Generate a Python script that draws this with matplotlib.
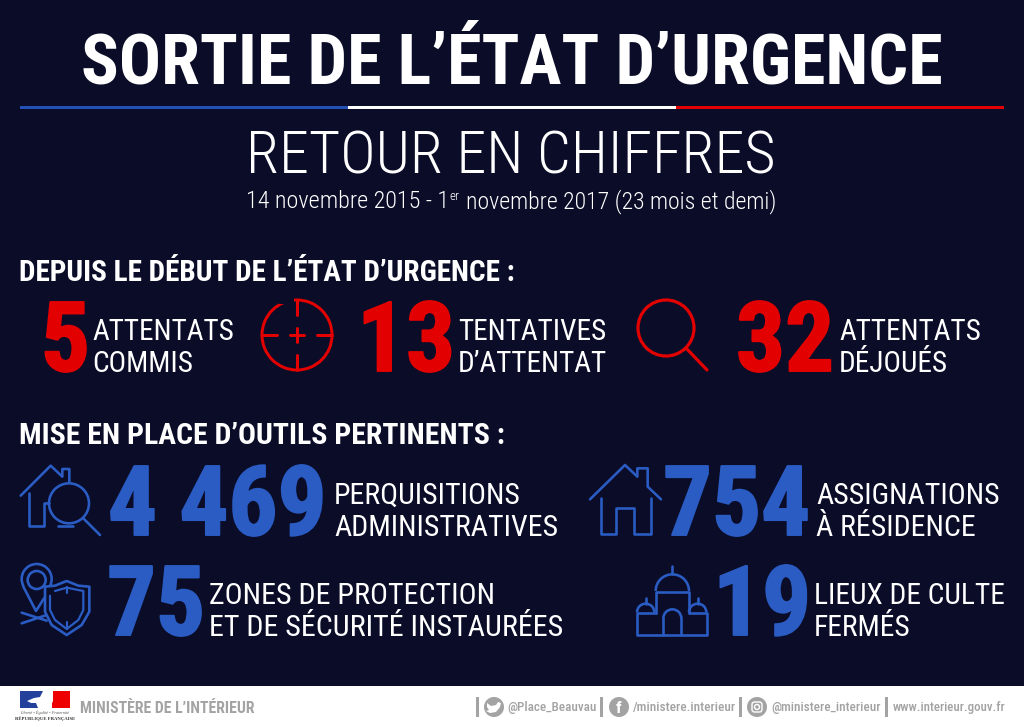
import numpy as np
import matplotlib
matplotlib.use("Agg")
import matplotlib.pyplot as plt
import matplotlib.patheffects as pe
from matplotlib.patches import Arc, Circle, FancyBboxPatch, Polygon, Rectangle

# Texts and figures of the infographic
title = "SORTIE DE L’ÉTAT D’URGENCE"
subtitle = "RETOUR EN CHIFFRES"
period_parts = ["14 novembre 2015 - 1", "er", "novembre 2017 (23 mois et demi)"]
section_titles = ["DEPUIS LE DÉBUT DE L’ÉTAT D’URGENCE :", "MISE EN PLACE D’OUTILS PERTINENTS :"]
attack_numbers = ["5", "13", "32"]
attack_labels = [["ATTENTATS", "COMMIS"], ["TENTATIVES", "D’ATTENTAT"], ["ATTENTATS", "DÉJOUÉS"]]
tool_numbers = ["4 469", "754", "75", "19"]
tool_labels = [["PERQUISITIONS", "ADMINISTRATIVES"], ["ASSIGNATIONS", "À RÉSIDENCE"],
               ["ZONES DE PROTECTION", "ET DE SÉCURITÉ INSTAURÉES"], ["LIEUX DE CULTE", "FERMÉS"]]
ministry = "MINISTÈRE DE L’INTÉRIEUR"
social_labels = ["@Place_Beauvau", "/ministere.interieur", "@ministere_interieur", "www.interieur.gouv.fr"]

BG = "#0a0c28"
RED = "#e30000"
BLUE = "#2a5cc4"
GREY = "#a3a3a3"
FONT = "Roboto Condensed"

fig = plt.figure(figsize=(10.24, 7.27), dpi=100, facecolor=BG)
ax = fig.add_axes([0, 0, 1, 1])
ax.set_xlim(0, 1024)
ax.set_ylim(727, 0)
ax.axis("off")


def txt(x, y, s, px, color="white", weight="normal", ha="left", stroke=0):
    # px = taille de la police en pixels, y = ligne de base
    t = ax.text(x, y, s, fontsize=px * 0.72, color=color, family=FONT, weight=weight,
                ha=ha, va="baseline")
    if stroke:
        t.set_path_effects([pe.withStroke(linewidth=stroke, foreground=color)])
    return t


def line(points, color, lw=2.6, zoom=None, zorder=2):
    pts = np.array(points, dtype=float)
    if zoom is not None:
        pts = pts / 3 + np.array(zoom)
    ax.plot(pts[:, 0], pts[:, 1], color=color, lw=lw * 0.72, solid_capstyle="round",
            solid_joinstyle="round", zorder=zorder)


def circle(x, y, r, color, lw=2.6, zoom=None):
    if zoom is not None:
        x, y, r = x / 3 + zoom[0], y / 3 + zoom[1], r / 3
    ax.add_patch(Circle((x, y), r, fill=False, ec=color, lw=lw * 0.72))


def arc(x, y, r, a1, a2, color, lw=2.6, zoom=None):
    if zoom is not None:
        x, y, r = x / 3 + zoom[0], y / 3 + zoom[1], r / 3
    # y axis goes down, so angles run clockwise on screen
    ax.add_patch(Arc((x, y), 2 * r, 2 * r, theta1=a1, theta2=a2, ec=color, lw=lw * 0.72))


# Header
txt(512, 84, title, 70.2, weight="bold", ha="center")
ax.add_patch(Rectangle((20, 105.5), 328, 3, fc="#2350b4", ec="none"))
ax.add_patch(Rectangle((348, 105.5), 328, 3, fc="white", ec="none"))
ax.add_patch(Rectangle((676, 105.5), 328, 3, fc=RED, ec="none"))
txt(510.5, 173, subtitle, 60, weight="light", ha="center")
txt(246.5, 208, period_parts[0], 24.1, weight="light")
txt(449, 200, period_parts[1], 13, weight="light")
txt(465.5, 208, period_parts[2], 23.75, weight="light")

# First block
txt(19, 281, section_titles[0], 29.25, weight="bold")
for n, x_num, x_lab, lab in zip(attack_numbers, [41, 357, 736], [92, 458, 839], attack_labels):
    txt(x_num, 371, n, 97, color=RED, weight="bold", stroke=1.4)
    txt(x_lab, 340, lab[0], 29.2)
    txt(x_lab, 372, lab[1], 29.2)

# Crosshair
arc(297, 335, 35, 0, 360, RED, lw=3)
for seg in [[(297, 300), (297, 315)], [(297, 355), (297, 370)], [(262, 335), (277, 335)],
            [(317, 335), (332, 335)], [(290, 335), (304, 335)], [(297, 328), (297, 342)]]:
    line(seg, RED, lw=3)
ax.add_patch(Rectangle((279, 296), 15, 8, fc=BG, ec="none", zorder=3))

# Magnifier
circle(666, 328, 28, RED, lw=3.2)
line([(686, 348), (707, 370)], RED, lw=3.2)

# Second block
txt(19, 444, section_titles[1], 29.8, weight="bold")
tool_pos = [(108, 535, 334, 504), (663, 535, 816, 504), (107, 635, 209, 604), (713, 635, 814, 604)]
tool_sizes = [29.9, 29.9, 30, 29.5]
for n, lab, size, (xn, yn, xl, yl) in zip(tool_numbers, tool_labels, tool_sizes, tool_pos):
    txt(xn, yn, n, 97, color=BLUE, weight="bold", stroke=1.4)
    txt(xl, yl, lab[0], size)
    txt(xl, yl + 32, lab[1], size)

# Icon: house with magnifier
z = (0, 455)
line([(62, 122), (152, 32), (187, 65), (187, 42), (208, 42), (208, 80)], BLUE, zoom=z)
line([(88, 115), (88, 212), (132, 212), (132, 145), (148, 145)], BLUE, zoom=z)
line([(175, 212), (218, 212)], BLUE, zoom=z)
circle(207, 145, 60, BLUE, zoom=z)
line([(250, 190), (300, 240)], BLUE, zoom=z)

# Icon: pin and shield
circle(110, 375, 27, BLUE, zoom=z)
arc(110, 372, 45, 150, 30, BLUE, zoom=z)
line([(70, 395), (108, 468), (132, 430)], BLUE, zoom=z)
line([(65, 473), (140, 497)], BLUE, zoom=z)
line([(65, 505), (140, 480)], BLUE, zoom=z)
ax.add_patch(Polygon(np.array([(200, 378), (165, 392), (135, 395), (135, 470), (155, 510), (200, 540),
                               (245, 510), (268, 470), (268, 395), (235, 392)]) / 3 + np.array(z),
                     fc=BG, ec=BLUE, lw=1.9, joinstyle="round", zorder=3))
line([(165, 408), (200, 398), (250, 408), (250, 465), (235, 495), (200, 522), (165, 495), (150, 465), (150, 422)],
     BLUE, lw=2.2, zoom=z, zorder=4)
line([(200, 395), (200, 415)], BLUE, lw=2.2, zoom=z, zorder=4)
line([(200, 500), (200, 522)], BLUE, lw=2.2, zoom=z, zorder=4)

# Icon: house
z = (580, 455)
line([(30, 133), (135, 30), (172, 65), (172, 40), (203, 40), (203, 95), (243, 133)], BLUE, zoom=z)
line([(62, 128), (62, 238), (108, 238), (108, 160), (163, 160), (163, 238), (213, 238), (213, 128)], BLUE, zoom=z)

# Icon: place of worship
line([(228, 475), (172, 475), (172, 540), (380, 540), (380, 475), (327, 475)], BLUE, zoom=z)
line([(228, 475), (228, 410), (327, 410), (327, 475)], BLUE, zoom=z)
arc(277, 408, 50, 180, 360, BLUE, zoom=z)
line([(275, 332), (275, 357)], BLUE, zoom=z)
line([(250, 540), (250, 490)], BLUE, zoom=z)
line([(304, 540), (304, 490)], BLUE, zoom=z)
arc(277, 490, 27, 180, 360, BLUE, zoom=z)
arc(197, 472, 26, 180, 360, BLUE, zoom=z)
arc(353, 472, 26, 180, 360, BLUE, zoom=z)
line([(197, 428), (197, 447)], BLUE, zoom=z)
line([(353, 428), (353, 447)], BLUE, zoom=z)

# Footer
ax.add_patch(Rectangle((0, 686), 1024, 41, fc="white", ec="none"))
ax.add_patch(Rectangle((20, 691), 24, 17, fc="#23409a", ec="none"))
ax.add_patch(Rectangle((52, 691), 18, 17, fc="#ef0000", ec="none"))
ax.add_patch(Polygon([(43, 691), (53, 691), (53, 701), (50, 708), (38, 708), (36, 703), (31, 703), (27, 701),
                      (34, 698), (40, 697)], fc="white", ec="none"))
ax.text(45, 712.5, "Liberté • Égalité • Fraternité", fontsize=3.1, color="#555555", ha="center", va="center",
        family="Liberation Serif", style="italic")
ax.text(45, 719, "RÉPUBLIQUE FRANÇAISE", fontsize=3.4, color="#333333", ha="center", va="center",
        family="Liberation Serif", weight="bold")
txt(80, 713, ministry, 15.8, color=GREY, weight="bold")

for x in [477, 601, 740, 886]:
    ax.add_patch(Rectangle((x - 1.5, 697), 3, 20, fc=GREY, ec="none"))
for x in [494, 619, 757]:
    ax.add_patch(Circle((x, 707), 10, fc=GREY, ec="none"))
# bird
ax.add_patch(Polygon([(487, 703), (491, 706), (496, 705), (498, 702), (501, 703), (500, 707), (496, 712),
                      (490, 713), (486, 711), (489, 710), (487, 707)], fc="white", ec="none"))
# f
txt(615.5, 713, "f", 17, weight="bold")
# camera
ax.add_patch(FancyBboxPatch((752, 702), 10, 10, boxstyle="round,pad=0,rounding_size=2.5", fill=False, ec="white", lw=1))
ax.add_patch(Circle((757, 707), 2.5, fill=False, ec="white", lw=1))
for x, s, size in zip([507.5, 632.5, 771.5, 892.5], social_labels, [13.1, 13.2, 13.1, 12.9]):
    txt(x, 711, s, size, color=GREY, weight="medium")

fig.savefig("out.png", dpi=100, facecolor=BG)
